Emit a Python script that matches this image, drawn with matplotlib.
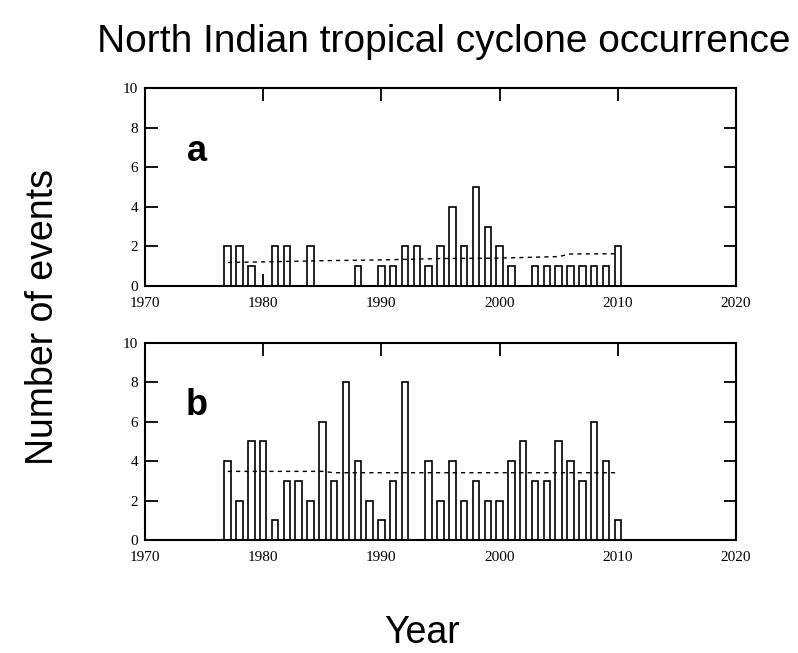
import matplotlib
matplotlib.use('Agg')
import matplotlib.pyplot as plt

years = list(range(1977, 2011))

# panel a counts per year, 1977-2010
counts_a = [2, 2, 1, 0, 2, 2, 0, 2, 0, 0, 0, 1, 0, 1, 1, 2, 2, 1, 2, 4,
            2, 5, 3, 2, 1, 0, 1, 1, 1, 1, 1, 1, 1, 2]
# panel b counts per year, 1977-2010
counts_b = [4, 2, 5, 5, 1, 3, 3, 2, 6, 3, 8, 4, 2, 1, 3, 8, 0, 4, 2, 4,
            2, 3, 2, 2, 4, 5, 3, 3, 5, 4, 3, 6, 4, 1]

trend_a_years = [1977, 1980, 1985, 1990, 1995, 2000, 2005, 2006, 2010]
trend_a_vals = [1.19, 1.22, 1.28, 1.32, 1.39, 1.41, 1.49, 1.62, 1.63]
trend_b_years = [1977, 1985, 1986, 2010]
trend_b_vals = [3.48, 3.48, 3.41, 3.41]

fig = plt.figure(figsize=(7.98, 6.53), dpi=100)
ax_a = fig.add_axes([0.1817, 0.562, 0.7406, 0.3028])
ax_b = fig.add_axes([0.1817, 0.173, 0.7406, 0.3022])

panels = [(ax_a, counts_a, trend_a_years, trend_a_vals, 'a'),
          (ax_b, counts_b, trend_b_years, trend_b_vals, 'b')]

for ax, counts, ty, tv, letter in panels:
    ax.bar(years, counts, width=0.55, facecolor='white', edgecolor='black',
           linewidth=1.2, zorder=2)
    ax.plot(ty, tv, color='black', linestyle=(0, (3, 3)), linewidth=1.0, zorder=3)
    ax.set_xlim(1970, 2020)
    ax.set_ylim(0, 10)
    ax.set_xticks([1970, 1980, 1990, 2000, 2010, 2020])
    ax.set_yticks([0, 2, 4, 6, 8, 10])
    ax.tick_params(direction='in', length=9, width=1.3, top=True, right=True,
                   labelright=False, labeltop=False)
    ax.tick_params(axis='x', pad=8)
    ax.tick_params(axis='y', pad=5)
    for lab in ax.get_xticklabels() + ax.get_yticklabels():
        lab.set_family('Liberation Serif')
        lab.set_fontsize(11)
    for sp in ax.spines.values():
        sp.set_linewidth(1.5)
    ax.text(1974.4, 6.8, letter, fontsize=26, fontweight='bold',
            family='Liberation Sans', ha='center', va='center')

fig.text(0.5564, 0.921, 'North Indian tropical cyclone occurrence',
         fontsize=28, family='Liberation Sans', ha='center', va='baseline')
fig.text(0.054, 0.514, 'Number of events', fontsize=27, family='Liberation Sans',
         rotation=90, ha='center', va='center')
fig.text(0.529, 0.015, 'Year', fontsize=27, family='Liberation Sans',
         ha='center', va='baseline')

fig.savefig('out.png', dpi=100)
